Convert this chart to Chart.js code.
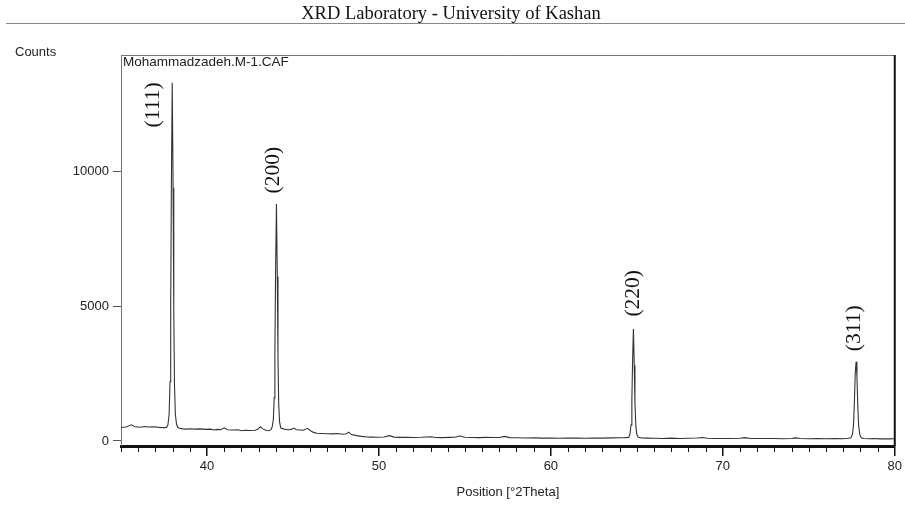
<!DOCTYPE html>
<html>
<head>
<meta charset="utf-8">
<script src="https://cdn.jsdelivr.net/npm/chart.js@4"></script>
<style>
html,body{margin:0;padding:0;background:#fff;}
#wrap{width:905px;height:513px;position:relative;}
</style>
</head>
<body>
<div id="wrap"><canvas id="c" width="905" height="513"></canvas></div>
<script>
// ---- data ----
const twoTheta = [
 35.0,35.3,35.6,35.8,36.1,36.4,36.6,36.9,37.2,37.5,
 37.65,37.73,37.80,37.85,37.89,37.93,37.98,38.03,38.07,38.11,38.16,38.23,38.31,
 38.4,38.6,38.8,39.0,39.3,39.6,39.9,40.2,40.4,40.6,40.8,41.0,41.2,41.5,41.8,42.0,42.2,42.5,42.8,43.0,43.1,43.25,43.45,43.6,
 43.72,43.79,43.86,43.91,43.95,43.99,44.04,44.09,44.13,44.17,44.22,
 44.29,44.5,44.7,44.9,45.05,45.2,45.4,45.6,45.85,46.0,46.2,46.4,46.7,47.0,47.3,47.6,47.9,48.1,48.25,48.4,48.7,49.0,49.3,49.6,49.9,
 50.3,50.6,50.9,51.2,51.6,52.0,52.5,53.0,53.3,53.7,54.1,54.4,54.7,55.0,55.4,55.8,56.2,56.6,57.0,57.3,57.6,58.0,58.5,59.0,59.5,
 60.0,60.5,61.0,61.5,62.0,62.5,63.0,63.5,64.0,64.3,
 64.52,64.60,64.66,64.71,64.75,64.80,64.85,64.89,64.94,65.00,65.08,
 65.3,65.6,66.0,66.5,67.0,67.5,68.0,68.5,68.8,69.1,69.5,70.0,70.5,71.0,71.3,71.6,72.0,72.5,73.0,73.5,74.0,74.2,74.5,75.0,75.5,76.0,76.5,77.0,77.3,
 77.45,77.54,77.60,77.65,77.70,77.75,77.80,77.85,77.90,77.97,78.05,
 78.2,78.5,78.8,79.1,79.4,79.7,80.0
];
const counts = [
 500,520,600,530,510,540,520,530,505,495,
 500,600,1000,2200,5000,9500,13300,9400,4800,2100,1000,620,500,
 470,450,440,455,440,450,430,440,410,430,420,490,420,410,420,380,400,390,400,450,530,450,390,380,
 420,520,800,1600,3300,6300,8800,6100,3100,1400,720,
 480,440,420,430,480,420,410,400,470,390,320,290,280,270,265,280,250,270,330,240,200,170,150,145,140,
 150,200,145,135,140,130,140,160,130,125,135,140,185,140,130,125,135,130,130,170,125,120,110,115,105,
 110,100,110,105,100,110,105,115,120,125,
 135,250,600,1500,2900,4160,2800,1400,560,240,140,
 110,105,100,95,105,95,100,110,130,100,95,90,95,100,125,95,90,95,90,85,95,115,90,85,90,85,90,85,100,
 120,250,600,1400,2500,2945,2400,1300,560,230,120,
 90,85,90,80,85,80,85
];
const xTickLabels = [40, 50, 60, 70, 80];
const yTickLabels = [0, 5000, 10000];
const peakLabels = ['(111)', '(200)', '(220)', '(311)'];
const peakLabelX = [36.9, 43.87, 64.78, 77.67];
const peakLabelY = [12480, 10060, 5485, 4185];

const SANS = '"Liberation Sans", Arial, sans-serif';
const SERIF = '"Liberation Serif", "Times New Roman", serif';

const decor = {
  id: 'decor',
  afterDraw(chart) {
    const ctx = chart.ctx;
    const ca = chart.chartArea;
    const xs = chart.scales.x, ys = chart.scales.y;
    ctx.save();
    // header
    ctx.fillStyle = '#111';
    ctx.font = '18.5px ' + SERIF;
    ctx.textAlign = 'center';
    ctx.textBaseline = 'alphabetic';
    ctx.fillText('XRD Laboratory - University of Kashan', 451, 19);
    ctx.strokeStyle = '#888';
    ctx.lineWidth = 1;
    ctx.beginPath(); ctx.moveTo(6, 23.5); ctx.lineTo(905, 23.5); ctx.stroke();
    // Counts
    ctx.fillStyle = '#222';
    ctx.font = '13px ' + SANS;
    ctx.textAlign = 'left';
    ctx.textBaseline = 'middle';
    ctx.fillText('Counts', 15, 52);
    // frame top + right
    ctx.strokeStyle = '#777';
    ctx.lineWidth = 1;
    ctx.beginPath(); ctx.moveTo(ca.left, ca.top + 0.5); ctx.lineTo(ca.right, ca.top + 0.5); ctx.stroke();
    ctx.strokeStyle = '#111';
    ctx.lineWidth = 2;
    ctx.beginPath(); ctx.moveTo(ca.right, ca.top); ctx.lineTo(ca.right, ca.bottom); ctx.stroke();
    // file name
    ctx.fillStyle = '#222';
    ctx.font = '13.5px ' + SANS;
    ctx.textAlign = 'left';
    ctx.textBaseline = 'top';
    ctx.fillText('Mohammadzadeh.M-1.CAF', ca.left + 2, ca.top + 1);
    // minor ticks on x
    ctx.strokeStyle = '#111';
    ctx.lineWidth = 1;
    for (let v = Math.ceil(xs.min); v <= xs.max; v++) {
      if (v % 10 === 0) continue;
      const px = Math.round(xs.getPixelForValue(v)) + 0.5;
      ctx.beginPath(); ctx.moveTo(px, ca.bottom); ctx.lineTo(px, ca.bottom + 6); ctx.stroke();
    }
    // peak labels
    ctx.fillStyle = '#111';
    ctx.font = '21.5px ' + SERIF;
    ctx.textAlign = 'center';
    ctx.textBaseline = 'middle';
    for (let i = 0; i < peakLabels.length; i++) {
      const px = xs.getPixelForValue(peakLabelX[i]);
      const py = ys.getPixelForValue(peakLabelY[i]);
      ctx.save();
      ctx.translate(px, py);
      ctx.rotate(-Math.PI / 2);
      ctx.fillText(peakLabels[i], 0, 0);
      ctx.restore();
    }
    ctx.restore();
  }
};

new Chart(document.getElementById('c'), {
  type: 'line',
  data: {
    datasets: [{
      data: twoTheta.map((x, i) => ({x: x, y: counts[i]})),
      borderColor: '#333',
      borderWidth: 1.1,
      pointRadius: 0,
      tension: 0,
      fill: false
    }]
  },
  options: {
    responsive: false,
    animation: false,
    layout: {padding: {top: 55, right: 9, left: 0, bottom: 0}},
    plugins: {legend: {display: false}, tooltip: {enabled: false}, title: {display: false}},
    scales: {
      x: {
        type: 'linear',
        min: 35, max: 80,
        afterBuildTicks: s => { s.ticks = xTickLabels.map(v => ({value: v})); },
        afterFit: s => { s.height = 67; },
        grid: {drawOnChartArea: false, drawTicks: true, tickLength: 10, color: '#111', lineWidth: 1.5},
        border: {display: true, color: '#111', width: 3},
        ticks: {padding: 3, color: '#222', font: {family: SANS, size: 13}, maxRotation: 0,
                callback: v => String(v)},
        title: {display: true, text: 'Position [°2Theta]', color: '#222', font: {family: SANS, size: 13}, padding: {top: 0, bottom: 13}}
      },
      y: {
        type: 'linear',
        min: -186, max: 14334,
        afterBuildTicks: s => { s.ticks = yTickLabels.map(v => ({value: v})); },
        afterFit: s => { s.width = 121; },
        grid: {drawOnChartArea: false, drawTicks: true, tickLength: 8, color: '#555'},
        border: {display: true, color: '#777', width: 1},
        ticks: {padding: 4, color: '#222', font: {family: SANS, size: 13}, callback: v => String(v)}
      }
    }
  },
  plugins: [decor]
});
</script>
</body>
</html>
